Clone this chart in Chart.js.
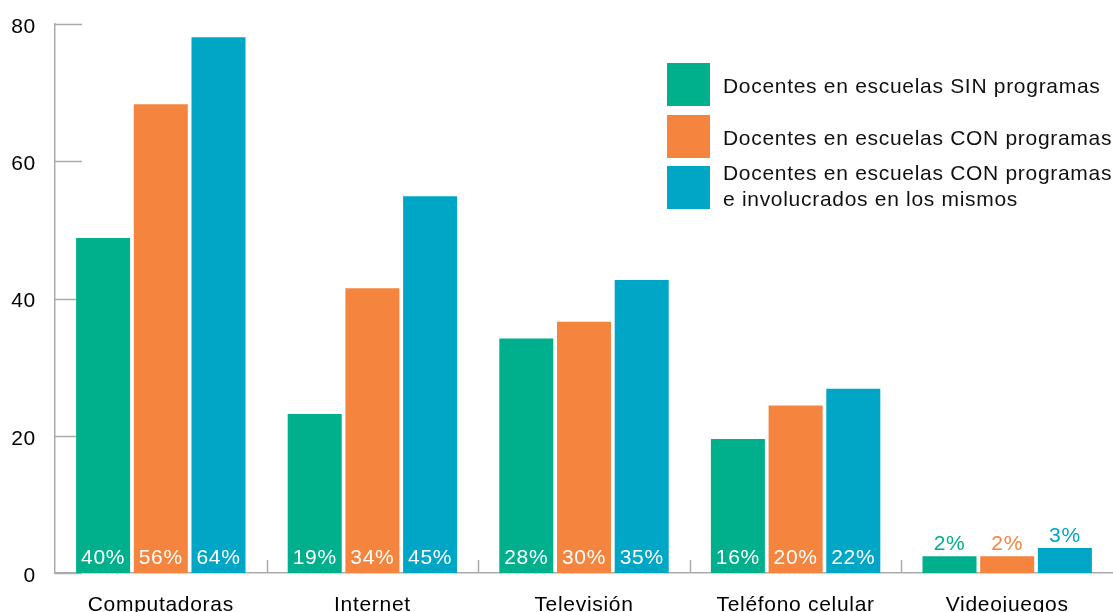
<!DOCTYPE html>
<html>
<head>
<meta charset="utf-8">
<script src="https://cdn.jsdelivr.net/npm/chart.js@4/dist/chart.umd.min.js"></script>
<style>
  html, body { margin: 0; padding: 0; background: #fff; }
  #wrap { width: 1113px; height: 612px; }
</style>
</head>
<body>
<div id="wrap"><canvas id="usos"></canvas></div>
<script>
const categories = ['Computadoras', 'Internet', 'Televisión', 'Teléfono celular', 'Videojuegos'];
const sinProgramas = [40, 19, 28, 16, 2];
const conProgramas = [56, 34, 30, 20, 2];
const conInvolucrados = [64, 45, 35, 22, 3];
const seriesNames = [
    ['Docentes en escuelas SIN programas'],
    ['Docentes en escuelas CON programas'],
    ['Docentes en escuelas CON programas', 'e involucrados en los mismos']
];
const seriesColors = ['#00af8c', '#f4843e', '#00a6c6'];
const axisTicks = [0, 20, 40, 60, 80];
// the printed axis runs in index units, bars are in percent
const axisFactor = 1.22;

const FONT = '"Liberation Sans", Arial, sans-serif';
const GRAY = '#ababab';

// short tick marks that sit inside the plot, behind the bars
const innerTicks = {
    id: 'innerTicks',
    beforeDraw(chart) {
        chart.ctx.letterSpacing = '0.7px';
    },
    beforeDatasetsDraw(chart) {
        const ctx = chart.ctx;
        const y = chart.scales.y, x = chart.scales.x;
        const area = chart.chartArea;
        ctx.save();
        ctx.strokeStyle = GRAY;
        ctx.lineWidth = 1.5;
        y.ticks.forEach(t => {
            const py = Math.round(y.getPixelForValue(t.value)) + 0.5;
            ctx.beginPath();
            ctx.moveTo(area.left, py);
            ctx.lineTo(area.left + 27, py);
            ctx.stroke();
        });
        for (let i = 0; i < categories.length - 1; i++) {
            const px = Math.round((x.getPixelForTick(i) + x.getPixelForTick(i + 1)) / 2) + 0.5;
            ctx.beginPath();
            ctx.moveTo(px, area.bottom);
            ctx.lineTo(px, area.bottom - 13);
            ctx.stroke();
        }
        ctx.restore();
    }
};

// percent labels: white inside the bar foot, coloured above short bars
const barLabels = {
    id: 'barLabels',
    afterDatasetsDraw(chart) {
        const ctx = chart.ctx;
        const area = chart.chartArea;
        ctx.save();
        ctx.font = '21px ' + FONT;
        ctx.textAlign = 'center';
        ctx.textBaseline = 'alphabetic';
        chart.data.datasets.forEach((ds, di) => {
            chart.getDatasetMeta(di).data.forEach((bar, i) => {
                const v = ds.data[i];
                const txt = v + '%';
                if (v >= 10) {
                    ctx.fillStyle = '#ffffff';
                    ctx.fillText(txt, bar.x, area.bottom - 9);
                } else {
                    ctx.fillStyle = seriesColors[di];
                    ctx.fillText(txt, bar.x, bar.y - 6);
                }
            });
        });
        ctx.restore();
    }
};

const boxLegend = {
    id: 'boxLegend',
    afterDraw(chart) {
        const ctx = chart.ctx;
        const tops = [63, 115, 166];
        ctx.save();
        ctx.font = '21px ' + FONT;
        ctx.textAlign = 'left';
        ctx.textBaseline = 'alphabetic';
        chart.data.datasets.forEach((ds, di) => {
            ctx.fillStyle = ds.backgroundColor;
            ctx.fillRect(667, tops[di], 43, 43);
            ctx.fillStyle = '#111';
            const lines = seriesNames[di];
            const first = lines.length > 1 ? tops[di] + 14 : tops[di] + 30;
            lines.forEach((line, li) => {
                ctx.fillText(line, 723, first + li * 26);
            });
        });
        ctx.restore();
    }
};

new Chart(document.getElementById('usos'), {
    type: 'bar',
    data: {
        labels: categories,
        datasets: [
            { label: seriesNames[0].join(' '), data: sinProgramas, backgroundColor: seriesColors[0] },
            { label: seriesNames[1].join(' '), data: conProgramas, backgroundColor: seriesColors[1] },
            { label: seriesNames[2].join(' '), data: conInvolucrados, backgroundColor: seriesColors[2] }
        ]
    },
    options: {
        responsive: true,
        maintainAspectRatio: false,
        animation: false,
        layout: { padding: { top: 24, right: 0, left: 0, bottom: 0 } },
        datasets: {
            bar: { barPercentage: 0.936, categoryPercentage: 0.818 }
        },
        plugins: {
            legend: { display: false },
            tooltip: { enabled: false }
        },
        scales: {
            x: {
                grid: { display: false, drawTicks: false },
                border: { color: GRAY, width: 1.5 },
                ticks: {
                    color: '#000',
                    font: { family: FONT, size: 21 },
                    padding: 20,
                    maxRotation: 0
                },
                afterFit(scale) {
                    scale.height = 39;
                    scale.paddingLeft = 0;
                    scale.paddingRight = 0;
                }
            },
            y: {
                min: 0,
                max: axisTicks[axisTicks.length - 1] / axisFactor,
                grid: { display: false, drawTicks: false },
                border: { color: GRAY, width: 1.5 },
                afterBuildTicks(scale) {
                    scale.ticks = axisTicks.map(t => ({ value: t / axisFactor }));
                },
                ticks: {
                    color: '#000',
                    font: { family: FONT, size: 21 },
                    padding: 19,
                    labelOffset: 3,
                    callback: v => Math.round(v * axisFactor)
                },
                afterFit(scale) {
                    scale.width = 55;
                    scale.paddingTop = 0;
                    scale.paddingBottom = 0;
                }
            }
        }
    },
    plugins: [innerTicks, barLabels, boxLegend]
});
</script>
</body>
</html>
